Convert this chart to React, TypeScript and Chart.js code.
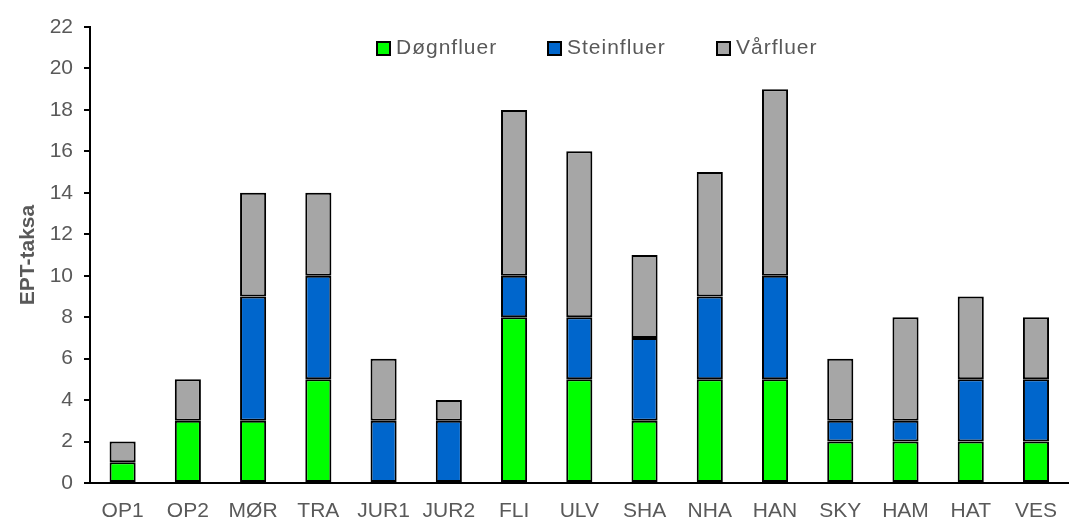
import React, { useEffect, useRef } from "react";
import { Chart, registerables } from "chart.js";

Chart.register(...registerables);

const categories = ["OP1", "OP2", "MØR", "TRA", "JUR1", "JUR2", "FLI", "ULV", "SHA", "NHA", "HAN", "SKY", "HAM", "HAT", "VES"];
const dognfluer = [1, 3, 3, 5, 0, 0, 8, 5, 3, 5, 5, 2, 2, 2, 2];
const steinfluer = [0, 0, 6, 5, 3, 3, 2, 3, 4, 4, 5, 1, 1, 3, 3];
const varfluer = [1, 2, 5, 4, 3, 1, 8, 8, 4, 6, 9, 3, 5, 4, 3];
const seriesNames = ["Døgnfluer", "Steinfluer", "Vårfluer"];
const seriesColors = ["#00FF00", "#0066CC", "#A6A6A6"];

const TEXT = "#595959";
const FONT = "Liberation Sans, Arial, sans-serif";

const legendPlugin = {
  id: "insideLegend",
  afterDraw(chart: any) {
    const ctx = chart.ctx;
    const xs = [377, 548, 717];
    const y = 48;
    ctx.save();
    ctx.font = `21px ${FONT}`;
    (ctx as any).letterSpacing = "1px";
    ctx.textBaseline = "middle";
    ctx.textAlign = "left";
    seriesNames.forEach((name, i) => {
      ctx.fillStyle = seriesColors[i];
      ctx.fillRect(xs[i], y - 6, 13, 13);
      ctx.strokeStyle = "#000";
      ctx.lineWidth = 2;
      ctx.strokeRect(xs[i], y - 6, 13, 13);
      ctx.fillStyle = TEXT;
      ctx.fillText(name, xs[i] + 19, y);
    });
    ctx.restore();
  },
};

export default function App() {
  const ref = useRef<HTMLCanvasElement>(null);
  useEffect(() => {
    if (!ref.current) return;
    const data = [dognfluer, steinfluer, varfluer];
    const chart = new Chart(ref.current, {
      type: "bar",
      data: {
        labels: categories,
        datasets: data.map((d, i) => ({
          label: seriesNames[i],
          data: d.map((v) => (v === 0 ? null : v)),
          backgroundColor: seriesColors[i],
          borderColor: "#000",
          borderWidth: 2,
          borderSkipped: false,
          barPercentage: 0.4,
          categoryPercentage: 1,
        })),
      },
      options: {
        animation: false,
        responsive: false,
        maintainAspectRatio: false,
        layout: { padding: { top: 27, right: 0, bottom: 0, left: 0 } },
        plugins: { legend: { display: false }, tooltip: { enabled: false } },
        scales: {
          x: {
            stacked: true,
            grid: { display: false, drawTicks: false },
            border: { display: true, color: "#000", width: 2 },
            ticks: { color: TEXT, font: { size: 21, family: FONT }, padding: 16, maxRotation: 0 },
            afterFit: (s: any) => { s.height = 37; },
          },
          y: {
            stacked: true,
            min: 0,
            max: 22,
            grid: { drawOnChartArea: false, drawTicks: true, tickLength: 6, color: "#000", lineWidth: 2 },
            border: { display: true, color: "#000", width: 2 },
            ticks: { stepSize: 2, color: TEXT, font: { size: 21, family: FONT }, padding: 11 },
            title: { display: true, text: "EPT-taksa", color: TEXT, font: { size: 21, weight: "bold", family: FONT }, padding: { top: 16, bottom: 0 } },
            afterFit: (s: any) => { s.width = 90; },
          },
        },
      },
      plugins: [legendPlugin],
    });
    return () => chart.destroy();
  }, []);
  return (
    <div style={{ position: "fixed", left: 0, top: 0, width: 1073, height: 520, background: "#fff" }}>
      <canvas ref={ref} width={1073} height={520} style={{ width: 1073, height: 520 }} />
    </div>
  );
}
